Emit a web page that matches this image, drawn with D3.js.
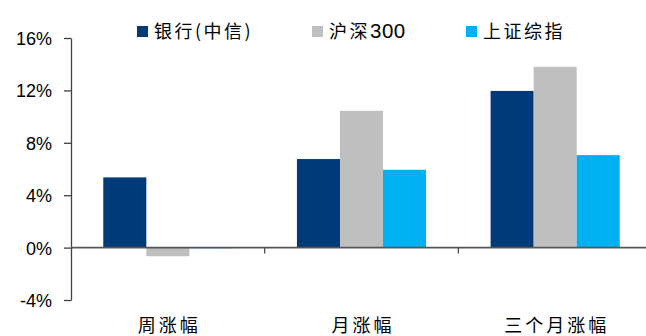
<!DOCTYPE html>
<html><head><meta charset="utf-8">
<script src="https://cdn.jsdelivr.net/npm/d3@7"></script>
<style>body{margin:0;background:#fff}svg{display:block}</style>
</head><body>
<script>
const categories = ["周涨幅", "月涨幅", "三个月涨幅"];
const seriesNames = ["银行(中信)", "沪深300", "上证综指"];
const bankValues = [5.36, 6.76, 11.96];
const hs300Values = [-0.66, 10.44, 13.8];
const shValues = [-0.05, 5.94, 7.06];
const yTicks = [-4, 0, 4, 8, 12, 16];
const colors = ["#003A79", "#BFBFBF", "#00B0F0"];

(function () {
const W = 646, H = 336;
const svg = d3.select("body").append("svg").attr("width", W).attr("height", H);
const mLeft = 71, mRight = 652, mTop = 38, mBottom = 300;

const x = d3.scaleBand().domain(categories).range([mLeft, mRight]).paddingInner(0).paddingOuter(0);
const xs = d3.scaleBand().domain(seriesNames).range([0, x.bandwidth()]).paddingInner(0).paddingOuter(0.75);
const y = d3.scaleLinear().domain([-4, 16]).range([mBottom, mTop]);

const series = [bankValues, hs300Values, shValues];
const fontLat = "'Liberation Sans', Arial, sans-serif";
const fontCJK = "'Noto Sans CJK SC', sans-serif";

// bars
series.forEach((vals, si) => {
  svg.append("g").selectAll("rect").data(vals).join("rect")
    .attr("x", (d, i) => x(categories[i]) + xs(seriesNames[si]))
    .attr("width", xs.bandwidth())
    .attr("y", d => y(Math.max(0, d)))
    .attr("height", d => Math.abs(y(d) - y(0)))
    .attr("fill", colors[si]);
});

// y axis
const yAxis = d3.axisLeft(y).tickValues(yTicks).tickFormat(d => d + "%").tickSize(7).tickSizeOuter(0);
const gy = svg.append("g").attr("transform", `translate(${mLeft},0)`).call(yAxis);
gy.select(".domain").attr("stroke", "#404040").attr("stroke-width", 1.3);
gy.selectAll(".tick line").attr("stroke", "#404040").attr("stroke-width", 1.3);
gy.selectAll("text").attr("font-family", fontLat).attr("font-size", 18).attr("fill", "#000").attr("x", -19).attr("dy", "0.36em");

// zero line with category separators
const gx = svg.append("g").attr("transform", `translate(0,${y(0)})`);
gx.append("line").attr("x1", mLeft).attr("x2", mRight).attr("stroke", "#555").attr("stroke-width", 1.6);
gx.selectAll("line.sep").data(categories.slice(1)).join("line").attr("class", "sep")
  .attr("x1", d => x(d)).attr("x2", d => x(d)).attr("y1", 0).attr("y2", 6)
  .attr("stroke", "#404040").attr("stroke-width", 1.2);

// category labels
svg.append("g").selectAll("text").data(categories).join("text")
  .attr("x", d => x(d) + x.bandwidth() / 2 + 1.5)
  .attr("y", 332)
  .attr("text-anchor", "middle")
  .attr("letter-spacing", 3)
  .attr("font-family", fontCJK).attr("font-size", 18).attr("fill", "#000")
  .text(d => d);

// legend: CJK runs spaced out, digit runs in a Latin face
const legendX = [137, 312, 466];
const lg = svg.append("g");
seriesNames.forEach((name, i) => {
  lg.append("rect").attr("x", legendX[i]).attr("y", 26).attr("width", 11).attr("height", 11).attr("fill", colors[i]);
  const t = lg.append("text").attr("x", legendX[i] + 17).attr("y", 38)
    .attr("font-family", fontCJK).attr("font-size", 18).attr("fill", "#000");
  name.match(/\d+|\D+/g).forEach(part => {
    const isNum = /^\d+$/.test(part);
    t.append("tspan")
      .attr("font-family", isNum ? fontLat : fontCJK)
      .attr("font-size", isNum ? 20.5 : 18)
      .attr("letter-spacing", isNum ? 0.5 : 2.5)
      .text(part);
  });
});
})();
</script>
</body></html>
